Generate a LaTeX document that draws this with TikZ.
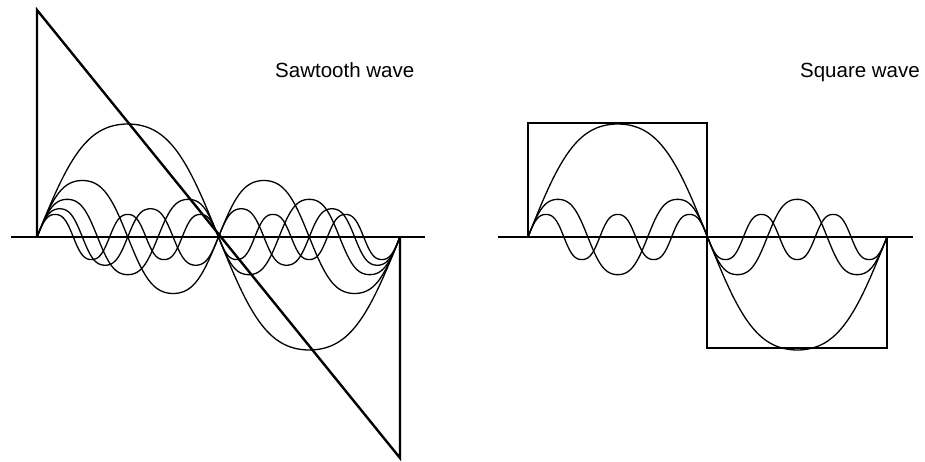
\documentclass[tikz,border=0pt]{standalone}
\usepackage{fontspec}
\setmainfont{Liberation Sans}
\usepackage{tikz}
\usetikzlibrary{positioning}

\begin{document}
\begin{tikzpicture}[
	x=1pt, y=-1pt,
	% Seno algo aplanado en las crestas
	declare function={flatsin(\a)=(sin(\a)+sin(3*\a)/16)/0.9375;},
	% Estilo para las ondas
	wave/.style={
		line width=2.4pt,
		line join=miter
	},
	% Estilo para los armonicos
	harmonic/.style={
		line width=1.3pt,
		smooth
	},
	% Estilo para los ejes
	axisline/.style={
		line width=1.6pt
	},
	% Estilo para los titulos
	title/.style={
		font=\fontsize{20.5}{23}\selectfont,
		inner sep=0pt
	}
	]
	\useasboundingbox (0,0) rectangle (925,462);
	
	% --- Diente de sierra ---
	\draw[axisline] (11,237) -- (425,237);
	\draw[wave] (37,237) -- (37,10) -- (400,458) -- (400,237);
	\foreach \n in {1,...,5}
		\draw[harmonic] plot[domain=0:360, samples=200]
		({37+1.008333*\x}, {237-113/\n*flatsin(\n*\x)});
	\node[title, anchor=base west] (sawlabel) at (275,78) {Sawtooth wave};
	
	% --- Onda cuadrada ---
	\draw[axisline] (498,237) -- (913,237);
	\draw[wave] (528,237) -- (528,123) -- (707,123) -- (707,348) -- (887,348) -- (887,237);
	\foreach \n in {1,3,5}
		\draw[harmonic] plot[domain=0:360, samples=200]
		({528+0.997222*\x}, {237-113/\n*flatsin(\n*\x)});
	\node[title, anchor=base east] (sqlabel) at (920,78) {Square wave};
	
\end{tikzpicture}
\end{document}
